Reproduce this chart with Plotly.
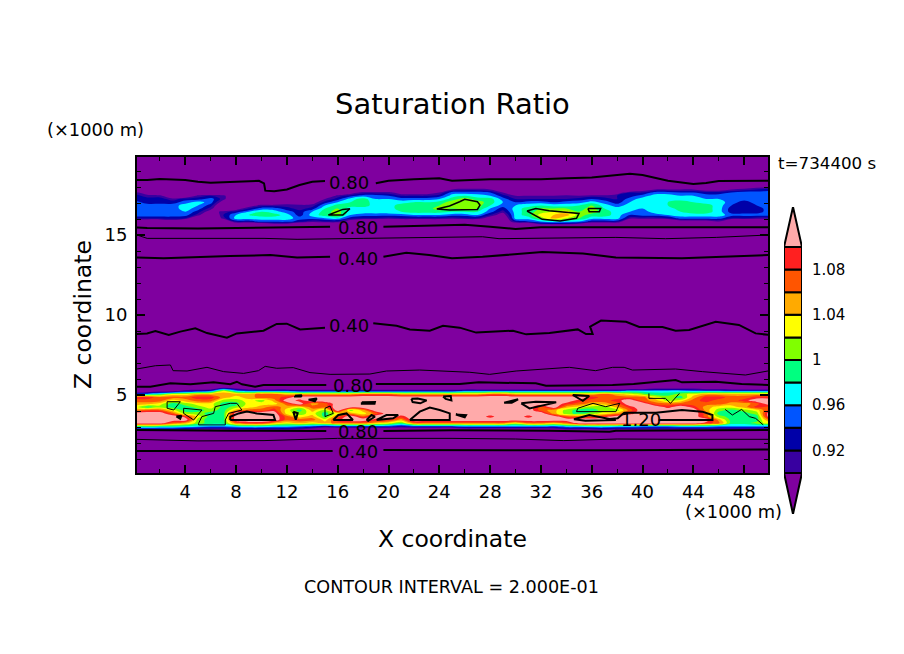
#!/usr/bin/env python3
"""Saturation ratio cross-section, values read off the reference picture."""

import plotly.graph_objects as go

WIDTH = 904
HEIGHT = 654

LEVELS = [0.90, 0.92, 0.94, 0.96, 0.98, 1.00, 1.02, 1.04, 1.06, 1.08]
BAND_COLORS = ["#7f009f", "#3800a0", "#0000a8", "#0055ff", "#00ffff", "#00ff80",
               "#80ff00", "#ffff00", "#ffaa00", "#ff5500", "#ff2020", "#ffaaaa"]
CBAR_TICKS = [0.92, 0.96, 1.00, 1.04, 1.08]
CBAR_TICKTEXT = ["0.92", "0.96", "1", "1.04", "1.08"]

GRID_X = list(range(51))

# upper moist layer, one list per km of x, percent, top to bottom
UPPER_Z = [18.05, 17.85, 17.65, 17.45, 17.25, 17.05, 16.85, 16.65, 16.45, 16.25, 16.05, 15.85, 15.65]
UPPER_COLS = [
    [85, 85, 91, 93, 93, 95, 95, 95, 95, 95, 93, 85, 85],
    [85, 85, 88, 91, 93, 93, 95, 95, 95, 95, 93, 85, 85],
    [85, 85, 85, 91, 93, 93, 95, 95, 95, 95, 93, 85, 85],
    [85, 85, 85, 85, 91, 93, 95, 95, 95, 95, 93, 88, 85],
    [85, 85, 85, 85, 93, 95, 97, 97, 96, 95, 92, 85, 85],
    [85, 85, 85, 91, 93, 97, 96, 95, 93, 91, 85, 85, 85],
    [85, 85, 85, 92, 95, 95, 93, 91, 88, 85, 85, 85, 85],
    [85, 85, 85, 91, 91, 88, 85, 85, 91, 92, 91, 85, 85],
    [85, 85, 85, 85, 85, 85, 85, 88, 93, 96, 97, 93, 85],
    [85, 85, 85, 85, 85, 85, 88, 92, 96, 98, 97, 93, 85],
    [85, 85, 85, 85, 85, 85, 91, 95, 98, 99, 97, 95, 85],
    [85, 85, 85, 85, 85, 85, 91, 95, 97, 99, 97, 95, 88],
    [85, 85, 85, 85, 85, 88, 91, 93, 95, 97, 97, 95, 88],
    [85, 85, 85, 85, 85, 85, 91, 91, 93, 93, 95, 93, 85],
    [85, 85, 85, 85, 85, 88, 91, 93, 96, 97, 95, 91, 85],
    [85, 85, 85, 85, 90, 93, 96, 98, 99, 99, 96, 92, 85],
    [85, 85, 85, 91, 93, 96, 99, 100, 101, 101, 97, 92, 85],
    [85, 85, 88, 93, 97, 98, 99, 97, 97, 96, 93, 88, 85],
    [85, 85, 91, 95, 99, 99, 99, 97, 97, 95, 92, 85, 85],
    [85, 85, 91, 95, 96, 97, 97, 97, 97, 95, 92, 85, 85],
    [85, 85, 91, 94, 96, 97, 97, 97, 97, 95, 91, 85, 85],
    [85, 85, 88, 92, 95, 97, 99, 99, 98, 95, 92, 85, 85],
    [85, 85, 88, 92, 95, 98, 99, 99, 99, 96, 92, 85, 85],
    [85, 85, 88, 92, 95, 98, 99, 99, 99, 96, 92, 85, 85],
    [85, 85, 90, 93, 96, 99, 100, 101, 99, 96, 92, 85, 85],
    [85, 90, 95, 97, 99, 101, 101, 100, 98, 95, 91, 85, 85],
    [85, 91, 95, 98, 101, 101, 101, 101, 98, 95, 92, 85, 85],
    [85, 91, 95, 97, 99, 101, 101, 100, 98, 96, 92, 85, 85],
    [85, 90, 94, 96, 99, 99, 98, 96, 95, 92, 88, 85, 85],
    [85, 85, 90, 93, 95, 96, 95, 93, 91, 88, 85, 85, 85],
    [85, 85, 85, 90, 92, 94, 96, 97, 97, 97, 97, 93, 85],
    [85, 85, 85, 90, 92, 95, 97, 99, 99, 99, 97, 94, 85],
    [85, 85, 85, 90, 92, 95, 98, 100, 101, 103, 101, 96, 90],
    [85, 85, 85, 90, 92, 94, 97, 100, 102, 104, 105, 97, 91],
    [85, 85, 85, 91, 92, 95, 97, 100, 103, 105, 102, 97, 90],
    [85, 85, 85, 90, 93, 95, 98, 99, 100, 101, 100, 96, 88],
    [85, 85, 85, 91, 94, 97, 100, 101, 101, 99, 97, 93, 85],
    [85, 85, 85, 91, 93, 95, 97, 98, 99, 99, 97, 93, 85],
    [85, 85, 88, 92, 92, 93, 95, 97, 97, 97, 97, 93, 85],
    [85, 85, 92, 93, 95, 96, 97, 97, 96, 94, 91, 85, 85],
    [85, 88, 92, 95, 97, 97, 97, 96, 95, 95, 91, 85, 85],
    [85, 90, 95, 97, 97, 97, 97, 97, 97, 95, 91, 85, 85],
    [85, 90, 95, 97, 97, 98, 98, 97, 97, 96, 92, 85, 85],
    [85, 90, 94, 96, 97, 99, 99, 99, 98, 97, 95, 88, 85],
    [85, 90, 94, 96, 97, 98, 99, 99, 99, 97, 95, 88, 85],
    [85, 88, 93, 95, 96, 97, 99, 99, 99, 97, 95, 88, 85],
    [85, 88, 93, 95, 96, 97, 97, 97, 97, 97, 95, 90, 85],
    [85, 90, 94, 95, 95, 95, 94, 93, 93, 95, 92, 85, 85],
    [85, 91, 95, 95, 95, 93, 93, 93, 93, 95, 92, 85, 85],
    [88, 92, 95, 95, 95, 95, 94, 93, 93, 95, 91, 85, 85],
    [88, 93, 95, 95, 95, 95, 95, 95, 95, 95, 91, 85, 85],
]

# lower moist layer, same layout
LOWER_Z = [5.65, 5.45, 5.25, 5.05, 4.85, 4.65, 4.45, 4.25, 4.05, 3.85, 3.65, 3.45, 3.25, 3.05, 2.85, 2.65]
LOWER_COLS = [
    [85, 85, 85, 95, 109, 107, 105, 103, 105, 112, 112, 112, 112, 99, 92, 85],
    [85, 85, 85, 97, 109, 107, 105, 99, 107, 112, 112, 112, 112, 100, 92, 85],
    [85, 85, 88, 99, 107, 107, 103, 101, 107, 112, 112, 112, 112, 99, 92, 85],
    [85, 85, 88, 103, 107, 103, 99, 99, 103, 107, 112, 112, 107, 99, 92, 85],
    [85, 85, 92, 103, 107, 105, 101, 99, 99, 101, 109, 112, 105, 98, 91, 85],
    [85, 85, 93, 105, 109, 107, 103, 101, 99, 101, 103, 101, 101, 97, 90, 85],
    [85, 85, 95, 105, 109, 107, 103, 103, 101, 99, 99, 99, 99, 96, 90, 85],
    [85, 90, 103, 105, 105, 101, 99, 99, 99, 99, 99, 99, 99, 96, 90, 85],
    [85, 88, 97, 105, 103, 101, 99, 101, 105, 112, 112, 112, 107, 97, 91, 85],
    [85, 85, 95, 105, 105, 103, 103, 103, 107, 112, 112, 112, 109, 98, 91, 85],
    [85, 85, 95, 107, 107, 101, 103, 105, 107, 112, 112, 112, 109, 98, 91, 85],
    [85, 85, 95, 107, 107, 105, 103, 107, 109, 112, 112, 112, 105, 97, 91, 85],
    [85, 85, 95, 105, 109, 112, 107, 105, 103, 103, 107, 107, 103, 97, 91, 85],
    [85, 85, 93, 105, 112, 109, 112, 103, 99, 101, 103, 107, 105, 96, 90, 85],
    [85, 85, 93, 105, 112, 112, 105, 107, 105, 103, 105, 107, 103, 95, 88, 85],
    [85, 85, 93, 105, 112, 112, 107, 107, 101, 99, 99, 103, 105, 93, 85, 85],
    [85, 85, 93, 105, 112, 112, 112, 112, 112, 103, 107, 109, 107, 95, 85, 85],
    [85, 85, 93, 105, 112, 112, 112, 112, 101, 105, 112, 112, 107, 95, 85, 85],
    [85, 85, 93, 107, 112, 112, 112, 112, 105, 103, 107, 112, 107, 95, 85, 85],
    [85, 85, 93, 107, 112, 112, 112, 112, 112, 107, 112, 109, 105, 95, 85, 85],
    [85, 85, 93, 107, 112, 112, 112, 112, 112, 112, 112, 109, 103, 95, 85, 85],
    [85, 85, 93, 105, 112, 112, 112, 112, 112, 112, 109, 105, 100, 93, 85, 85],
    [85, 85, 93, 105, 112, 112, 112, 112, 112, 112, 112, 112, 107, 95, 85, 85],
    [85, 85, 93, 105, 112, 112, 112, 112, 112, 112, 112, 112, 107, 95, 85, 85],
    [85, 85, 93, 105, 112, 112, 112, 112, 112, 112, 112, 112, 107, 95, 85, 85],
    [85, 85, 93, 105, 112, 112, 112, 112, 112, 112, 112, 112, 107, 95, 85, 85],
    [85, 85, 95, 105, 112, 112, 112, 112, 112, 112, 112, 112, 107, 96, 88, 85],
    [85, 85, 95, 105, 112, 112, 112, 112, 112, 112, 112, 112, 107, 96, 88, 85],
    [85, 85, 95, 107, 112, 112, 112, 112, 112, 112, 109, 112, 107, 96, 88, 85],
    [85, 85, 95, 107, 112, 112, 112, 112, 112, 112, 112, 112, 107, 96, 88, 85],
    [85, 85, 95, 105, 112, 112, 112, 112, 112, 112, 112, 112, 103, 96, 88, 85],
    [85, 85, 95, 105, 112, 112, 112, 112, 112, 112, 109, 112, 107, 96, 88, 85],
    [85, 85, 95, 105, 112, 112, 112, 107, 107, 112, 112, 112, 107, 96, 88, 85],
    [85, 85, 95, 105, 112, 112, 112, 112, 105, 105, 112, 112, 105, 95, 88, 85],
    [85, 85, 95, 105, 112, 112, 109, 105, 101, 101, 107, 112, 107, 97, 90, 85],
    [85, 85, 95, 105, 112, 109, 107, 103, 99, 99, 107, 112, 112, 97, 90, 85],
    [85, 85, 95, 105, 109, 107, 105, 101, 99, 101, 107, 112, 112, 98, 90, 85],
    [85, 85, 95, 107, 107, 107, 105, 101, 101, 103, 109, 112, 112, 98, 91, 85],
    [85, 85, 95, 105, 107, 109, 107, 105, 101, 105, 112, 112, 112, 97, 90, 85],
    [85, 85, 97, 103, 107, 112, 112, 109, 107, 109, 112, 112, 112, 97, 90, 85],
    [85, 85, 97, 101, 107, 107, 112, 112, 112, 112, 112, 112, 112, 96, 90, 85],
    [85, 88, 97, 99, 103, 105, 107, 112, 112, 112, 112, 112, 112, 96, 90, 85],
    [85, 88, 97, 99, 101, 101, 107, 109, 112, 112, 112, 112, 112, 96, 90, 85],
    [85, 88, 97, 101, 99, 103, 107, 112, 112, 112, 112, 112, 112, 97, 90, 85],
    [85, 88, 96, 103, 105, 107, 107, 109, 112, 112, 112, 112, 112, 97, 90, 85],
    [85, 85, 96, 105, 109, 109, 107, 105, 105, 107, 107, 112, 109, 97, 90, 85],
    [85, 85, 96, 105, 109, 107, 107, 103, 101, 99, 101, 105, 107, 96, 90, 85],
    [85, 85, 95, 105, 107, 107, 105, 103, 99, 99, 99, 99, 99, 96, 90, 85],
    [85, 85, 95, 105, 107, 109, 105, 105, 101, 99, 99, 99, 99, 96, 90, 85],
    [85, 85, 95, 105, 109, 112, 107, 109, 103, 101, 99, 99, 101, 96, 90, 85],
    [85, 85, 95, 105, 109, 112, 112, 107, 109, 112, 112, 107, 103, 96, 90, 85],
]

# isolines, km; None leaves the gap for the inline label
LINE_A_X = [0, 1, 2, 3, 4, 5, 6, 7, 8, 9, 9.8, 10.2, 10.3, 11, 12, 13, 14, 15, None,
            19, 20, 22, 24, 25, 26, 27, 28, 30, 32, 34, 36, 38, 39, 40, 42, 44, 45, 46, 48, 50]
LINE_A_Z = [18.44, 18.44, 18.5, 18.48, 18.44, 18.33, 18.27, 18.29, 18.33, 18.39, 18.39, 18.23, 17.77, 17.73,
            17.85, 18.12, 18.33, 18.37, None, 18.23, 18.39, 18.48, 18.54, 18.39, 18.44, 18.46, 18.48, 18.46,
            18.48, 18.54, 18.6, 18.75, 18.83, 18.75, 18.39, 18.19, 18.25, 18.37, 18.39, 18.39]
LINE_B_X = [0, 1, 5, 10, 15.4, None, 19.6, 22.7, 25, 26, 28, 30, 32, 37, 50]
LINE_B_Z = [15.48, 15.43, 15.41, 15.48, 15.52, None, 15.52, 15.56, 15.62, 15.64, 15.52, 15.37, 15.48, 15.48, 15.48]
LINE_C_X = [0.2, 1, 10.2, 12.8, 18, 24.8, 27.4, 28.7, 32.7, 37.9, 41.8, 45.8, 49.9]
LINE_C_Z = [15.0, 14.79, 14.79, 14.73, 14.79, 14.85, 14.89, 14.77, 14.79, 14.85, 14.77, 14.85, 15.0]
LINE_D_X = [0, 2.3, 7.5, 10.7, 12.8, 15.4, None, 19.6, 21.4, 23.2, 25, 27.4, 30, 32.1, 35.3, 37.9, 43.1, 50]
LINE_D_Z = [13.6, 13.54, 13.68, 13.75, 13.6, 13.64, None, 13.64, 13.89, 13.75, 13.55, 13.64, 13.81, 13.93, 13.85,
            13.6, 13.54, 13.75]
LINE_E_X = [0, 0.99, 1.65, 2.7, 3.61, 4.79, 5.71, 7.28, 8.06, 10.16, 11.2, 11.99, 13.04, 15, None,
            18.8, 20.63, 21.68, 23.25, 24.29, 25.6, 26.9, 28.74, 29.8, 30.84, 32.67, 34.9, 35.55, 36.07,
            35.87, 36.73, 38.7, 39.74, 41.57, 42.6, 43.67, 45.76, 47.59, 48.9, 50]
LINE_E_Z = [8.81, 8.85, 9.0, 8.75, 8.96, 9.17, 8.87, 8.58, 8.85, 9.02, 9.44, 9.46, 9.1, 9.21, None,
            9.48, 9.33, 9.1, 9.02, 9.33, 9.21, 8.9, 8.96, 9.02, 8.79, 8.87, 9.1, 8.81, 8.81,
            9.27, 9.65, 9.58, 9.25, 9.25, 9.02, 9.06, 9.58, 9.38, 8.85, 8.75]
LINE_F_X = [0, 0.99, 1.65, 2.83, 3.04, 4.14, 5.71, 7.02, 8.59, 9.76, 10.29, 11.2, 12.5, 13.82, 15.4, 18.53,
            19.84, 22.46, 25.6, 26.4, 27.96, 30.05, 34.24, 36.3, 37.64, 38.55, 39.2, 42.6, 44.7, 48.1, 50]
LINE_F_Z = [6.6, 6.73, 6.83, 6.875, 6.52, 6.5, 6.73, 6.46, 6.35, 6.52, 6.79, 6.67, 6.71, 6.4, 6.29, 6.31,
            6.5, 6.56, 6.42, 6.42, 6.29, 6.5, 6.73, 6.52, 6.73, 6.73, 6.56, 6.625, 6.46, 6.25, 6.52]
LINE_G_X = [0, 1.25, 2.83, 4.4, 6.23, 7.54, 8.06, 8.46, 9.5, 10.16, 15.1, None,
            19, 25.6, 27.1, 31.6, 32.4, 37.64, 39.3, 42.6, 43.1, 45.76, 47.8, 50]
LINE_G_Z = [5.52, 5.52, 5.73, 5.67, 5.79, 5.67, 5.83, 5.67, 5.52, 5.625, 5.625, None,
            5.69, 5.69, 5.79, 5.73, 5.58, 5.625, 5.69, 5.94, 5.79, 5.83, 5.69, 5.625]
LINE_H_X = [0, 3.6, 7.54, 15.1, None, 19.6, 25, 32.6, 36.6, 37.4, 37.9, 50]
LINE_H_Z = [2.81, 2.77, 2.77, 2.75, None, 2.75, 2.79, 2.77, 2.75, 2.71, 2.77, 2.81]
LINE_I_X = [0, 5, 10.2, 13.6, 16, 25, 30, 33.8, 38, 43.1, 50]
LINE_I_Z = [2.23, 2.13, 2.15, 2.23, 2.29, 2.29, 2.25, 2.15, 2.25, 2.23, 2.23]
LINE_J_X = [0, 2.3, 6.2, 10.2, 15.6, None, 19.6, 25, 30, 38, 50]
LINE_J_Z = [1.5, 1.5, 1.52, 1.48, 1.5, None, 1.56, 1.56, 1.52, 1.54, 1.6]

# closed 1.00 curves round the upper lime patches
UPPER_RING_X = [15.26, 16.4, 16.96, 16.4, 15.26, None,
                23.8, 24.8, 25.6, 26, 27.0, 27.2, 27.0, 24.8, 23.8, None,
                30.9, 31.6, 32.65, 35, 34.8, 33.5, 32.1, 30.9, None,
                35.7, 36.7, 36.6, 35.8, 35.7]
UPPER_RING_Z = [16.25, 16.6, 16.64, 16.25, 16.25, None,
                16.62, 16.81, 17.08, 17.23, 17.08, 16.87, 16.6, 16.56, 16.62, None,
                16.5, 16.66, 16.52, 16.35, 16.04, 15.87, 15.98, 16.5, None,
                16.66, 16.66, 16.46, 16.46, 16.66]

# thin 1.00 curves round the green patches in the lower layer
LOWER_THIN_X = [2.57, 3.61, 3.09, 2.57, 2.57, None,
                3.87, 5.31, 4.66, 3.87, 3.87, None,
                5.05, 5.31, 6.23, 6.36, 7.54, 8.06, 8.46, 7.41, 7.15, 7.15, 5.05, 5.05, None,
                15, 15.4, 15.65, 15, 15, None,
                46.5, 47.07, 47.8, 48.4, 48.9, 49.5, None,
                40.5, 40.5, 41.8, 42.2, 42.9, None,
                34.9, 36.1, 37.1, 38.2, 37.9, 34.8, 34.9]
LOWER_THIN_Z = [4.58, 4.58, 4.06, 4.17, 4.58, None,
                4.17, 4.06, 3.44, 3.85, 4.17, None,
                3.23, 3.65, 3.85, 4.27, 4.48, 4.48, 4.06, 3.85, 3.44, 3.13, 3.13, 3.23, None,
                4.17, 4.31, 3.85, 3.65, 4.17, None,
                4.1, 3.75, 4.1, 3.65, 3.54, 3.13, None,
                5.1, 4.79, 4.79, 4.48, 5.1, None,
                4.17, 4.48, 4.27, 4.48, 3.96, 3.96, 4.17]

# closed 1.20 curves in the lower layer
RING_120_X = [7.54, 7.54, 8.2, 8.85, 9.63, 10.94, 11.07, 7.54, None,
              15.65, 16.05, 16.7, 17.2, 15.65, None,
              18.27, 18.66, 18.93, 18.4, 18.27, None,
              19.06, 19.84, 20.76, 20.37, 19.06, None,
              21.68, 22.46, 23.25, 24.03, 24.82, 24.82, 21.68, None,
              12.64, 13.17, 13.1, 12.64, 12.64, None,
              13.7, 14.35, 14.2, 13.7, None,
              17.9, 18.93, 18.9, 17.9, 17.9, None,
              21.8, 22.3, 23.0, 22.5, 21.9, 21.8, None,
              24.3, 24.9, 24.95, 24.5, 24.3, None,
              12.5, 12.85, 12.7, 12.5, None,
              3.3, 3.7, 3.6, 3.3, None,
              29.1, 30.2, 29.7, 29.1, None,
              30.45, 31.6, 33.2, 31.1, 30.45, None,
              34.5, 35.8, 35.3, 34.5, None,
              25.3, 26.1, 26.0, 25.3, None,
              41.26, 45.5, 45.5, 44.7, 43.1, 41.05, 38.56, 38.04, 37.4, 35.8, 34.6, 35.5, 37.9]
RING_120_Z = [3.44, 3.64, 3.85, 3.96, 3.85, 3.75, 3.44, 3.44, None,
              3.44, 3.75, 3.85, 3.44, 3.44, None,
              3.44, 3.75, 3.64, 3.39, 3.44, None,
              3.44, 3.75, 3.75, 3.54, 3.44, None,
              3.44, 3.96, 4.21, 4.06, 3.85, 3.44, 3.44, None,
              4.96, 4.98, 4.9, 4.9, 4.96, None,
              4.71, 4.78, 4.61, 4.71, None,
              4.54, 4.56, 4.46, 4.46, 4.54, None,
              4.76, 4.78, 4.66, 4.48, 4.56, 4.76, None,
              4.91, 4.94, 4.66, 4.76, 4.91, None,
              3.96, 3.86, 3.46, 3.96, None,
              3.66, 3.71, 3.51, 3.66, None,
              4.51, 4.73, 4.51, 4.51, None,
              4.48, 4.58, 4.54, 4.16, 4.48, None,
              5.0, 4.94, 4.64, 5.0, None,
              3.78, 3.74, 3.61, 3.78, None,
              3.44, 3.44, 3.75, 3.96, 4.06, 3.89, 3.89, 3.54, 3.5, 3.75, 3.48, 3.39, 3.44]

CONTOUR_LABELS = [("0.80", 16.9, 18.25), ("0.80", 17.6, 15.44), ("0.40", 17.6, 13.56), ("0.40", 16.9, 9.375),
                  ("0.80", 17.2, 5.625), ("1.20", 39.85, 3.44), ("0.80", 17.6, 2.75), ("0.40", 17.6, 1.5)]

FONT = "DejaVu Sans"


def paper_x(px):
    return px / WIDTH


def paper_y(px):
    return 1 - px / HEIGHT


def field_trace(z_rows, columns):
    return go.Contour(
        x=GRID_X,
        y=z_rows,
        z=[[v / 100 for v in row] for row in zip(*columns)],
        autocontour=False,
        contours={"start": 0.90, "end": 1.10, "size": 0.02, "coloring": "fill", "showlines": False},
        colorscale=[[i / (len(BAND_COLORS) - 1), c] for i, c in enumerate(BAND_COLORS)],
        line={"width": 0},
        showscale=False,
        hoverinfo="skip",
    )


def line_trace(x, z, width):
    return go.Scatter(x=x, y=z, mode="lines", line={"color": "black", "width": width},
                      showlegend=False, hoverinfo="skip")


fig = go.Figure()
fig.add_trace(field_trace(UPPER_Z, UPPER_COLS))
fig.add_trace(field_trace(LOWER_Z, LOWER_COLS))

for x, z, width in [
    (LINE_A_X, LINE_A_Z, 2), (LINE_B_X, LINE_B_Z, 2), (LINE_C_X, LINE_C_Z, 1), (LINE_D_X, LINE_D_Z, 2),
    (LINE_E_X, LINE_E_Z, 2), (LINE_F_X, LINE_F_Z, 1), (LINE_G_X, LINE_G_Z, 2), (LINE_H_X, LINE_H_Z, 2),
    (LINE_I_X, LINE_I_Z, 1), (LINE_J_X, LINE_J_Z, 2), (UPPER_RING_X, UPPER_RING_Z, 1.5),
    (LOWER_THIN_X, LOWER_THIN_Z, 1), (RING_120_X, RING_120_Z, 2),
]:
    fig.add_trace(line_trace(x, z, width))

# colour key drawn on its own small axes
fig.add_trace(go.Bar(
    x=[0.5] * len(LEVELS),
    y=[0.02] * len(LEVELS),
    base=LEVELS,
    width=1,
    marker={"color": BAND_COLORS[1:-1], "line": {"color": "black", "width": 2}},
    xaxis="x2", yaxis="y2", showlegend=False, hoverinfo="skip",
))
for tip_y, base_y, color in [(1.1354, 1.10, BAND_COLORS[-1]), (0.8637, 0.90, BAND_COLORS[0])]:
    fig.add_trace(go.Scatter(
        x=[0, 0.5, 1, 0], y=[base_y, tip_y, base_y, base_y], mode="lines", fill="toself",
        fillcolor=color, line={"color": "black", "width": 2},
        xaxis="x2", yaxis="y2", showlegend=False, hoverinfo="skip",
    ))

annotations = [
    {"text": text, "x": x, "y": z, "xref": "x", "yref": "y", "showarrow": False,
     "font": {"family": FONT, "size": 18, "color": "black"}}
    for text, x, z in CONTOUR_LABELS
]
for text, px, py, size, angle in [
    ("Saturation Ratio", 452, 104, 29, 0),
    ("(×1000 m)", 95, 129, 17.8, 0),
    ("t=734400 s", 827, 163, 16.7, 0),
    ("(×1000 m)", 733, 511, 17.8, 0),
    ("X coordinate", 452, 539, 23.5, 0),
    ("Z coordinate", 83, 315, 23.5, -90),
    ("CONTOUR INTERVAL = 2.000E-01", 451, 587, 17.6, 0),
]:
    annotations.append({
        "text": text, "x": paper_x(px), "y": paper_y(py), "xref": "paper", "yref": "paper",
        "showarrow": False, "textangle": angle, "xanchor": "center", "yanchor": "middle",
        "font": {"family": FONT, "size": size, "color": "black"},
    })

fig.update_layout(
    width=WIDTH,
    height=HEIGHT,
    autosize=False,
    margin={"l": 0, "r": 0, "t": 0, "b": 0},
    paper_bgcolor="white",
    plot_bgcolor="white",
    font={"family": FONT, "size": 18, "color": "black"},
    showlegend=False,
    annotations=annotations,
    # background of the main panel only, the key's axes stay white
    shapes=[{"type": "rect", "xref": "x domain", "yref": "y domain", "x0": 0, "x1": 1, "y0": 0, "y1": 1,
             "fillcolor": BAND_COLORS[0], "line": {"width": 0}, "layer": "below"}],
    xaxis={
        "domain": [paper_x(137), paper_x(768)], "range": [0.2, 49.875],
        "tickmode": "linear", "tick0": 0, "dtick": 4, "ticks": "inside", "ticklen": 8, "tickwidth": 2,
        "tickcolor": "black", "linecolor": "black", "linewidth": 2, "mirror": "allticks",
        "showgrid": False, "zeroline": False, "ticklabelstandoff": 1,
        "minor": {"tickmode": "linear", "tick0": 0, "dtick": 2, "ticks": "inside", "ticklen": 4,
                  "tickwidth": 1, "tickcolor": "black", "showgrid": False},
    },
    yaxis={
        "domain": [paper_y(473), paper_y(157)], "range": [0.125, 19.875],
        "tickmode": "linear", "tick0": 0, "dtick": 5, "ticks": "inside", "ticklen": 8, "tickwidth": 2,
        "tickcolor": "black", "linecolor": "black", "linewidth": 2, "mirror": "allticks",
        "showgrid": False, "zeroline": False, "ticklabelstandoff": 4,
        "minor": {"tickmode": "linear", "tick0": 0, "dtick": 1, "ticks": "inside", "ticklen": 4,
                  "tickwidth": 1, "tickcolor": "black", "showgrid": False},
    },
    xaxis2={
        "domain": [paper_x(784), paper_x(802)], "range": [0, 1], "anchor": "y2",
        "visible": False, "fixedrange": True,
    },
    yaxis2={
        "domain": [paper_y(514), paper_y(207)], "range": [0.8637, 1.1354], "anchor": "x2", "side": "right",
        "tickmode": "array", "tickvals": CBAR_TICKS, "ticktext": CBAR_TICKTEXT, "ticks": "",
        "showgrid": False, "zeroline": False, "showline": False, "ticklabelstandoff": 9,
        "tickfont": {"family": FONT, "size": 15, "color": "black"}, "fixedrange": True,
    },
)

fig.write_html("out.html", post_script="document.body.style.margin = '0';",
               config={"displayModeBar": False})
